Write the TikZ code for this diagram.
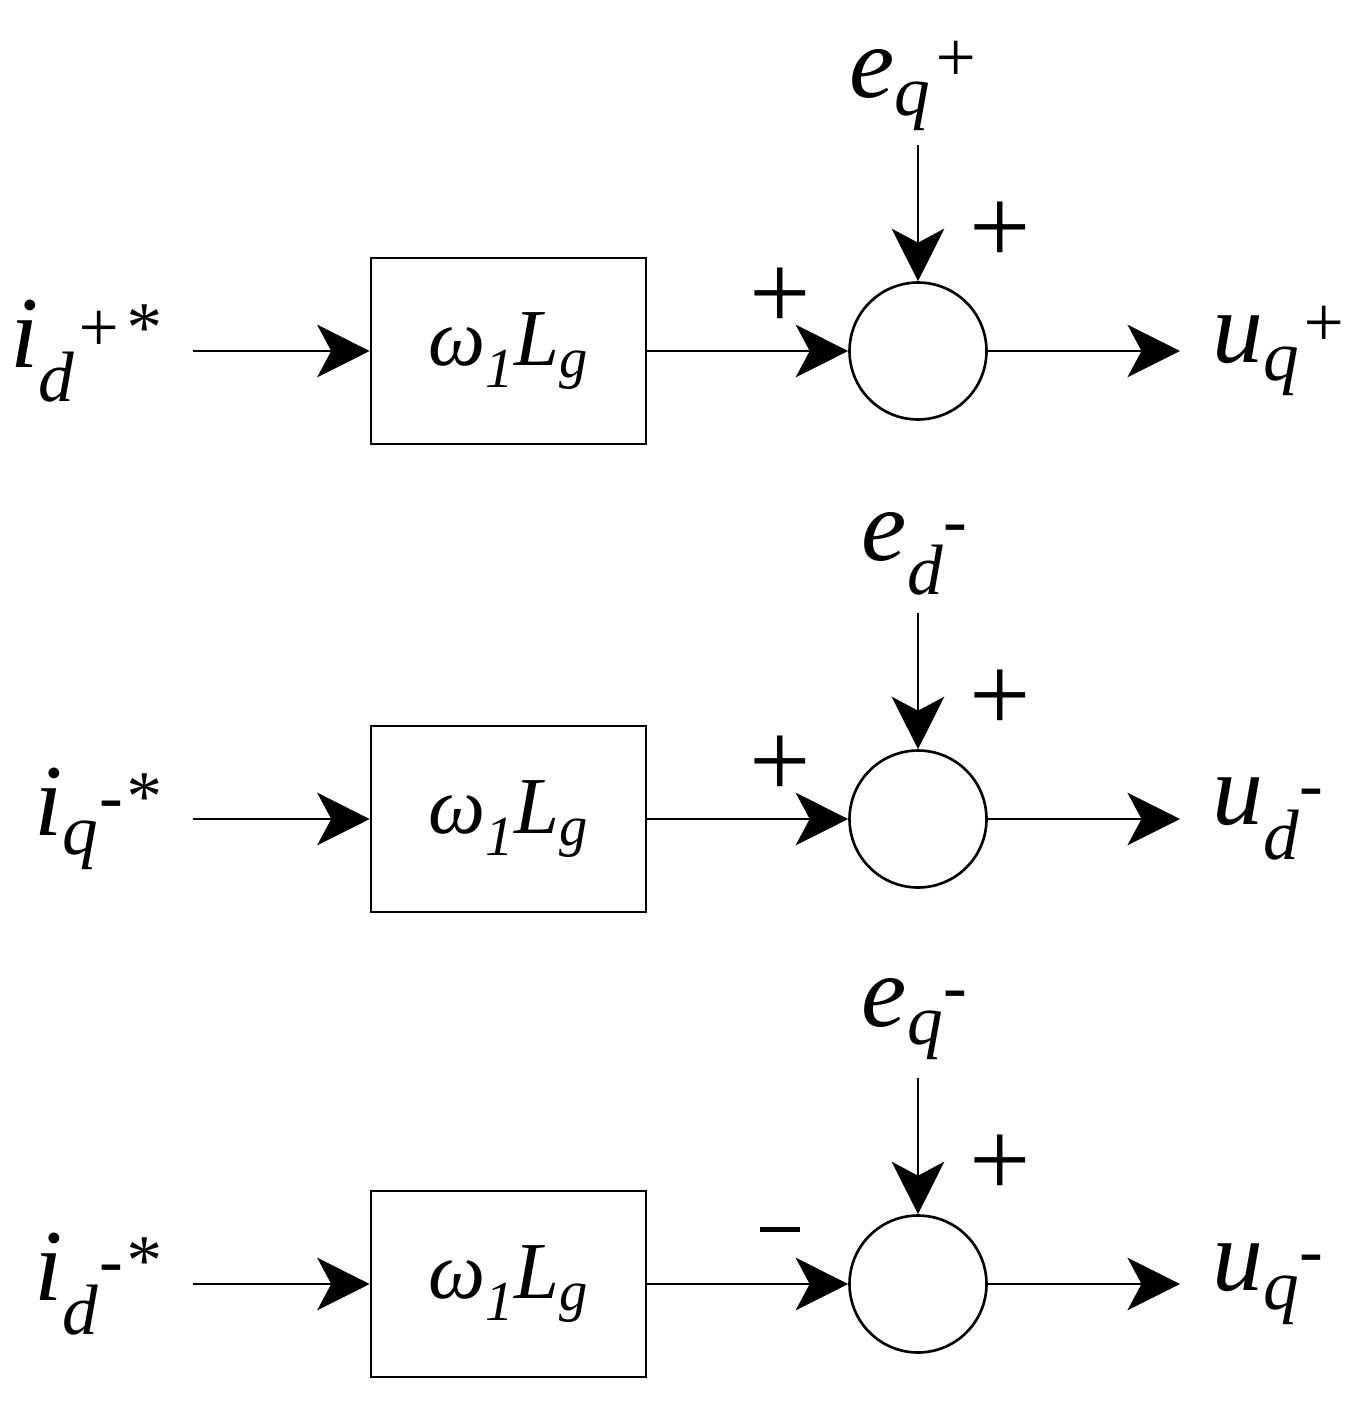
\documentclass[tikz,border=0pt]{standalone}
\usepackage{fontspec}
\setmainfont{LiberationSerif}[Extension=.ttf,UprightFont=*-Regular,ItalicFont=*-Italic,BoldFont=*-Bold]
\usetikzlibrary{arrows.meta}
\begin{document}
\begin{tikzpicture}[x=0.02cm,y=-0.02cm,
  blk/.style={draw,line width=1.5pt,minimum width=5.5cm,minimum height=3.72cm,inner sep=0pt,font=\fontsize{46}{50}\selectfont\itshape},
  sum/.style={draw,circle,line width=1.5pt,minimum size=2.74cm,inner sep=0pt},
  lab/.style={font=\fontsize{58}{60}\selectfont\itshape,inner sep=0pt},
  sgn/.style={font=\fontsize{62}{62}\selectfont,inner sep=0pt},
  ar/.style={line width=1.5pt,-{Stealth[length=1.05cm,width=1.05cm,inset=0.28cm]}}]
\useasboundingbox (0,0) rectangle (1358,1404);
\foreach \r/\y/\inl/\outl/\el/\s in {
  a/351/{i\textsubscript{d}\textsuperscript{+*}}/{u\textsubscript{q}\textsuperscript{+}}/{e\textsubscript{q}\textsuperscript{+}}/+,
  b/819/{i\textsubscript{q}\textsuperscript{-*}}/{u\textsubscript{d}\textsuperscript{-}}/{e\textsubscript{d}\textsuperscript{-}}/+,
  c/1284/{i\textsubscript{d}\textsuperscript{-*}}/{u\textsubscript{q}\textsuperscript{-}}/{e\textsubscript{q}\textsuperscript{-}}/{\raisebox{3pt}{\rule{0.8cm}{3pt}}}}{
  \node[blk] (box\r) at (508.5,\y) {ω\textsubscript{1}L\textsubscript{g}};
  \node[sum] (sum\r) at (918,\y) {};
  \node[lab,anchor=east] (in\r) at (160,\y) {\inl};
  \coordinate (inp\r) at (193,\y);
  \coordinate (out\r) at (1180,\y);
  \node[lab,anchor=west] (o\r) at (1212,\y) {\outl};
  \coordinate (etop\r) at (918,\y-206);
  \node[lab] (e\r) at (915,\y-265) {\el};
  \draw[ar] (inp\r) -- (box\r.west);
  \draw[ar] (box\r.east) -- (sum\r.west);
  \draw[ar] (sum\r.east) -- (out\r);
  \draw[ar] (etop\r) -- (sum\r.north);
  \node[sgn] (p\r) at (1000,\y-118) {+};
  \node[sgn] (l\r) at (780,\y-52) {\s};
}
\end{tikzpicture}
\end{document}
